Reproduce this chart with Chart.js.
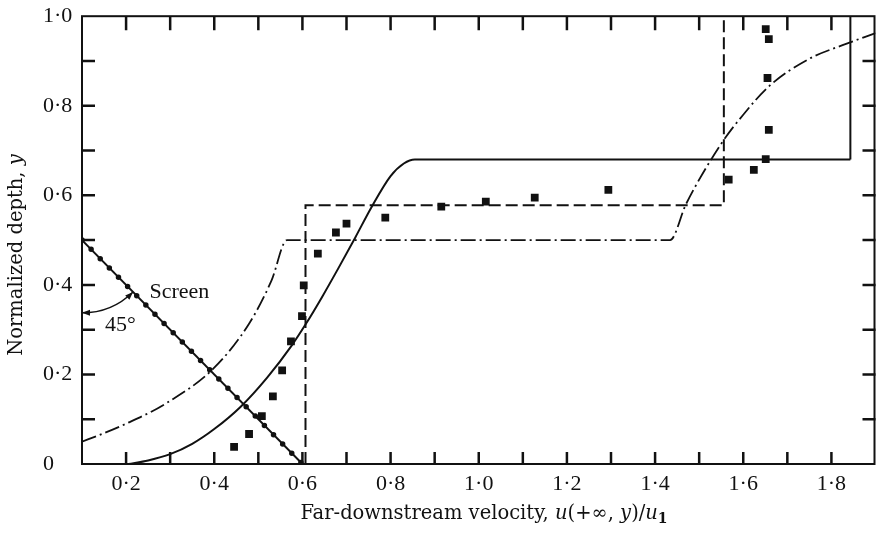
<!DOCTYPE html>
<html>
<head>
<meta charset="utf-8">
<script src="https://cdn.jsdelivr.net/npm/chart.js@4.4.1/dist/chart.umd.min.js"></script>
<style>
  body { margin: 0; background: #fff; }
  #wrap { width: 881px; height: 538px; }
</style>
</head>
<body>
<div id="wrap"><canvas id="chart" width="881" height="538"></canvas></div>
<script>
// tick positions
const xTickValues = [0.2, 0.4, 0.6, 0.8, 1.0, 1.2, 1.4, 1.6, 1.8];
const yTickValues = [0, 0.2, 0.4, 0.6, 0.8, 1.0];
const xMinorTicks = [0.2, 0.3, 0.4, 0.5, 0.6, 0.7, 0.8, 0.9, 1.0, 1.1, 1.2, 1.3, 1.4, 1.5, 1.6, 1.7, 1.8];
const yMinorTicks = [0.1, 0.2, 0.3, 0.4, 0.5, 0.6, 0.7, 0.8, 0.9];

// screen (45 degree line)
const screenX = [0.1, 0.6];
const screenY = [0.5, 0];

// chain-dotted curve
const dashDotX = [0.1, 0.14, 0.2, 0.29, 0.4, 0.48, 0.53, 0.565, 1.434, 1.47, 1.55, 1.6, 1.66, 1.75, 1.83, 1.9];
const dashDotY = [0.05, 0.065, 0.09, 0.135, 0.215, 0.315, 0.41, 0.5, 0.5, 0.58, 0.715, 0.78, 0.845, 0.905, 0.937, 0.962];

// solid curve
const solidX = [0.205, 0.25, 0.3, 0.35, 0.4, 0.46, 0.52, 0.576, 0.608, 0.644, 0.682, 0.72, 0.757, 0.8, 0.83, 0.855, 1.843];
const solidY = [0, 0.008, 0.022, 0.045, 0.078, 0.128, 0.193, 0.265, 0.313, 0.372, 0.438, 0.506, 0.574, 0.643, 0.671, 0.68, 0.68];
const solidEdgeX = [1.843, 1.843];
const solidEdgeY = [0.68, 1.0];

// dashed step
const dashedX = [0.607, 0.607, 1.556, 1.556];
const dashedY = [0, 0.578, 0.578, 1.0];

// measured points
const measX = [0.445, 0.479, 0.508, 0.533, 0.554, 0.574, 0.599, 0.603, 0.635, 0.676, 0.7, 0.788, 0.915, 1.016, 1.127, 1.294, 1.567, 1.624, 1.651, 1.658, 1.655, 1.658, 1.651];
const measY = [0.038, 0.067, 0.107, 0.151, 0.209, 0.274, 0.33, 0.399, 0.47, 0.517, 0.537, 0.55, 0.575, 0.586, 0.595, 0.612, 0.635, 0.657, 0.681, 0.746, 0.862, 0.949, 0.971];

const xTitleParts = [['Far-downstream velocity, ', ''], ['u', 'italic'], ['(+\u221E, ', ''], ['y', 'italic'], [')/', ''], ['u', 'italic'], ['1', 'sub']];
const yTitleParts = [['Normalized depth, ', ''], ['y', 'italic']];

const INK = '#111';
const FONT = "'Liberation Serif', 'DejaVu Serif', serif";
const TITLE_FONT = "'DejaVu Serif', 'Liberation Serif', serif";

const toPoints = (xs, ys) => xs.map((x, i) => ({ x: x, y: ys[i] }));
const fmt = v => v === 0 ? '0' : v.toFixed(1).replace('.', '\u00B7');

const drawRich = (ctx, parts, cx, cy, size) => {
    const fontFor = style => {
        if (style === 'italic') return 'italic ' + size + 'px ' + TITLE_FONT;
        if (style === 'sub') return 'bold ' + Math.round(size * 0.7) + 'px ' + TITLE_FONT;
        return size + 'px ' + TITLE_FONT;
    };
    let total = 0;
    parts.forEach(p => { ctx.font = fontFor(p[1]); total += ctx.measureText(p[0]).width; });
    let x = cx - total / 2;
    ctx.textBaseline = 'middle';
    ctx.textAlign = 'left';
    parts.forEach(p => {
        ctx.font = fontFor(p[1]);
        ctx.fillText(p[0], x, p[1] === 'sub' ? cy + size * 0.3 : cy);
        x += ctx.measureText(p[0]).width;
    });
};

const frameTicks = {
    id: 'frameTicks',
    afterDatasetsDraw(chart) {
        const { ctx, chartArea: a, scales: { x, y } } = chart;
        ctx.save();
        ctx.strokeStyle = INK;
        ctx.lineWidth = 2;
        ctx.strokeRect(a.left, a.top, a.right - a.left - 1, a.bottom - a.top);
        ctx.lineWidth = 2.5;
        ctx.beginPath();
        xMinorTicks.forEach(v => {
            const px = x.getPixelForValue(v);
            ctx.moveTo(px, a.bottom); ctx.lineTo(px, a.bottom - 12);
            ctx.moveTo(px, a.top); ctx.lineTo(px, a.top + 14);
        });
        yMinorTicks.forEach(v => {
            const py = y.getPixelForValue(v);
            ctx.moveTo(a.left, py); ctx.lineTo(a.left + 13, py);
            ctx.moveTo(a.right, py); ctx.lineTo(a.right - 13, py);
        });
        ctx.stroke();

        // angle arc between wall and screen
        const cx = x.getPixelForValue(screenX[0]);
        const cy = y.getPixelForValue(screenY[0]);
        const ang = Math.atan2(y.getPixelForValue(screenY[1]) - cy, x.getPixelForValue(screenX[1]) - cx);
        const r = x.getPixelForValue(0.265) - cx;
        ctx.lineWidth = 1.5;
        ctx.beginPath();
        ctx.arc(cx, cy, r, ang, Math.PI / 2);
        ctx.stroke();
        const arrow = (t, dir) => {
            const px = cx + r * Math.cos(t), py = cy + r * Math.sin(t);
            const dx = dir * -Math.sin(t), dy = dir * Math.cos(t);
            ctx.beginPath();
            ctx.moveTo(px, py);
            ctx.lineTo(px - dx * 8 - dy * 3, py - dy * 8 + dx * 3);
            ctx.lineTo(px - dx * 8 + dy * 3, py - dy * 8 - dx * 3);
            ctx.closePath();
            ctx.fillStyle = INK;
            ctx.fill();
        };
        arrow(ang, -1);
        arrow(Math.PI / 2, 1);

        ctx.fillStyle = INK;
        ctx.font = '22px ' + FONT;
        ctx.textBaseline = 'middle';
        ctx.textAlign = 'left';
        ctx.fillText('Screen', x.getPixelForValue(0.253), y.getPixelForValue(0.384));
        ctx.fillText('45\u00B0', x.getPixelForValue(0.152), y.getPixelForValue(0.31));

        // axis titles
        drawRich(ctx, xTitleParts, 484, 514, 19.5);
        ctx.translate(17, 255);
        ctx.rotate(-Math.PI / 2);
        drawRich(ctx, yTitleParts, 0, 0, 19.5);
        ctx.restore();
    }
};

const lineSet = (data, extra) => Object.assign({
    data: data,
    showLine: true,
    pointRadius: 0,
    borderColor: INK,
    borderWidth: 2,
    fill: false
}, extra);

new Chart(document.getElementById('chart').getContext('2d'), {
    type: 'scatter',
    data: {
        datasets: [
            lineSet(toPoints(screenX, screenY), {}),
            lineSet(toPoints(screenX, screenY), { borderWidth: 5.5, borderDash: [0, 13], borderCapStyle: 'round' }),
            lineSet(toPoints(dashDotX, dashDotY), { borderWidth: 1.8, borderDash: [15, 4, 2, 4], cubicInterpolationMode: 'monotone' }),
            lineSet(toPoints(solidX, solidY), { cubicInterpolationMode: 'monotone' }),
            lineSet(toPoints(solidEdgeX, solidEdgeY), {}),
            lineSet(toPoints(dashedX, dashedY), { borderDash: [12, 5] }),
            {
                data: toPoints(measX, measY),
                pointStyle: 'rect',
                pointRadius: 5.5,
                backgroundColor: INK,
                borderColor: INK,
                borderWidth: 0
            }
        ]
    },
    options: {
        responsive: false,
        animation: false,
        devicePixelRatio: 1,
        layout: { padding: { left: 43, top: 15, right: 1, bottom: 0 } },
        plugins: { legend: { display: false }, tooltip: { enabled: false } },
        scales: {
            x: {
                type: 'linear',
                min: 0.1,
                max: 1.9,
                grid: { display: false, drawTicks: false },
                border: { display: false },
                afterBuildTicks: s => { s.ticks = xTickValues.map(v => ({ value: v })); },
                afterFit: s => { s.height = 74; },
                ticks: {
                    padding: 7,
                    color: INK,
                    font: { family: FONT, size: 22 },
                    maxRotation: 0,
                    callback: v => fmt(v)
                }
            },
            y: {
                type: 'linear',
                min: 0,
                max: 1,
                grid: { display: false, drawTicks: false },
                border: { display: false },
                afterBuildTicks: s => { s.ticks = yTickValues.map(v => ({ value: v })); },
                afterFit: s => { s.width = 39; },
                ticks: {
                    crossAlign: 'far',
                    color: INK,
                    font: { family: FONT, size: 22 },
                    callback: v => fmt(v)
                }
            }
        }
    },
    plugins: [frameTicks]
});
</script>
</body>
</html>
